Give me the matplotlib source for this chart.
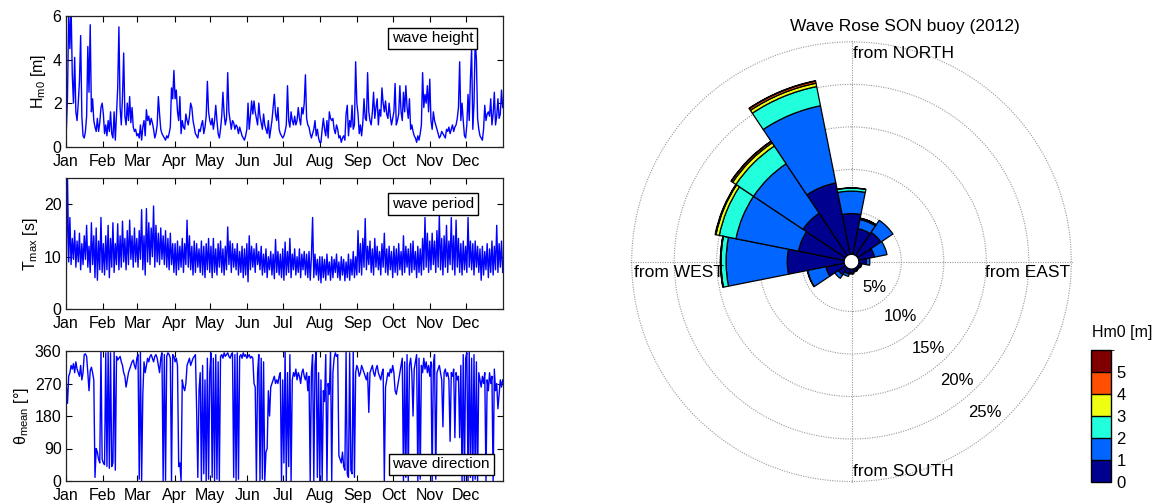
import numpy as np
import matplotlib
matplotlib.use("Agg")
import matplotlib.pyplot as plt
import matplotlib as mpl
from matplotlib.colors import ListedColormap, BoundaryNorm

plt.rcParams['font.family'] = ['Liberation Sans', 'DejaVu Sans']
plt.rcParams['mathtext.fontset'] = 'custom'
plt.rcParams['mathtext.rm'] = 'Liberation Sans'
plt.rcParams['mathtext.it'] = 'Liberation Sans:italic'
plt.rcParams['mathtext.default'] = 'regular'

# ---------------- data ----------------
months = ['Jan', 'Feb', 'Mar', 'Apr', 'May', 'Jun',
          'Jul', 'Aug', 'Sep', 'Oct', 'Nov', 'Dec']
month_start = [0, 31, 60, 91, 121, 152, 182, 213, 244, 274, 305, 335]
year_days = 366

# daily significant wave height [m]
hm0 = [
    0.7, 2.3, 6.2, 4.5, 6.5, 3.3, 2.0, 4.1, 1.6, 1.2, 2.0, 3.0, 5.1, 1.4, 0.5, 0.4, 0.7, 1.4, 4.6, 2.5, 5.6, 1.6, 2.2, 1.2, 0.9, 0.7, 1.3, 0.7, 1.1, 1.8, 2.0,
    1.5, 0.6, 1.0, 0.5, 1.2, 0.7, 1.6, 0.6, 0.4, 1.6, 0.3, 1.5, 2.7, 5.5, 1.8, 1.0, 2.3, 4.3, 1.4, 1.0, 2.0, 1.2, 2.3, 1.1, 1.8, 0.9, 0.7, 0.8, 0.5,
    0.6, 0.4, 1.0, 0.3, 0.9, 1.2, 0.5, 1.7, 1.2, 1.4, 1.0, 1.3, 1.1, 0.8, 0.4, 0.6, 1.0, 2.3, 1.5, 0.8, 0.6, 0.5, 0.4, 0.3, 0.5, 0.4, 0.6, 0.9, 2.7, 2.2, 3.5,
    2.2, 2.6, 1.6, 1.2, 2.3, 0.6, 1.2, 0.9, 0.8, 1.5, 1.2, 1.0, 1.4, 2.0, 1.8, 1.2, 0.9, 0.6, 0.5, 0.4, 0.8, 0.7, 1.0, 1.2, 0.6, 0.9, 1.4, 3.0, 1.6, 1.2,
    1.0, 1.3, 0.8, 1.2, 1.9, 1.2, 0.6, 0.4, 0.8, 1.4, 2.5, 1.5, 1.0, 1.3, 3.4, 1.6, 1.2, 0.8, 1.2, 1.1, 0.8, 1.0, 0.9, 0.6, 0.9, 0.7, 0.5, 0.4, 0.3, 0.5, 0.8,
    2.0, 0.8, 1.4, 2.1, 1.5, 2.1, 1.6, 1.3, 1.0, 2.0, 1.4, 1.1, 0.8, 1.5, 1.0, 0.8, 0.6, 1.2, 0.4, 0.8, 1.2, 1.8, 2.4, 1.5, 1.2, 1.8, 0.8, 0.6, 0.5, 0.4,
    0.5, 0.7, 1.0, 2.8, 1.2, 0.9, 1.6, 1.2, 1.0, 1.4, 1.0, 1.2, 1.8, 1.3, 1.0, 1.8, 1.5, 2.0, 3.3, 1.3, 1.0, 0.9, 0.6, 0.4, 0.6, 0.8, 1.2, 0.5, 0.8, 0.4, 0.2,
    0.2, 0.8, 1.3, 0.8, 0.5, 1.2, 0.4, 1.6, 1.3, 1.2, 1.3, 0.8, 0.6, 1.0, 0.8, 0.4, 0.5, 0.2, 0.4, 0.5, 0.3, 1.5, 1.9, 0.5, 1.2, 0.9, 1.9, 0.8, 1.0, 3.9, 2.0,
    1.5, 0.6, 1.0, 0.5, 1.1, 2.2, 1.3, 1.2, 3.4, 1.6, 1.2, 1.0, 1.6, 2.5, 1.3, 1.8, 2.2, 1.0, 1.7, 1.4, 2.7, 2.0, 1.6, 2.1, 1.5, 1.3, 2.0, 1.4, 1.0, 1.3,
    1.6, 2.9, 1.0, 1.2, 1.5, 2.8, 1.6, 1.2, 2.5, 1.6, 2.8, 1.8, 1.3, 2.2, 0.8, 1.0, 0.7, 0.5, 0.4, 0.2, 0.5, 0.3, 0.6, 1.0, 3.4, 1.8, 2.4, 2.0, 2.8, 1.6, 3.1,
    1.2, 0.8, 1.6, 1.2, 1.0, 0.8, 0.6, 0.4, 0.5, 0.7, 0.6, 0.5, 0.4, 0.8, 0.7, 0.9, 0.6, 0.8, 1.0, 0.7, 0.9, 1.0, 1.3, 1.8, 3.9, 1.2, 2.0, 1.2, 0.5, 0.4,
    1.0, 2.4, 1.2, 3.1, 4.5, 0.8, 2.0, 4.9, 4.0, 1.3, 0.8, 0.5, 0.4, 0.3, 0.8, 1.9, 1.2, 1.5, 1.6, 1.4, 2.2, 1.0, 1.5, 2.5, 1.0, 1.4, 2.2, 1.3, 1.5, 2.6, 1.8,
]

# daily maximum wave period [s] (alternating daily low / high)
tmax = [
    7.0, 25.5, 9.0, 17.5, 8.5, 13.5, 9.5, 15.0, 8.0, 13.0, 9.0, 14.5, 7.5, 12.5, 8.5, 14.0, 9.5, 16.0, 8.0, 12.0, 7.0, 16.5, 8.5, 14.0, 6.0, 15.5, 5.5, 13.0, 7.5, 17.5, 7.0,
    12.5, 6.5, 14.0, 7.5, 16.0, 6.0, 13.5, 8.0, 16.5, 7.0, 12.5, 8.5, 16.3, 7.5, 14.0, 8.0, 16.8, 9.0, 13.5, 7.5, 15.0, 8.5, 17.0, 9.5, 14.0, 8.0, 15.5, 9.0, 13.5,
    8.0, 15.0, 9.5, 19.0, 7.5, 14.0, 6.5, 19.2, 9.0, 16.5, 8.5, 15.5, 10.0, 19.7, 8.0, 16.0, 9.0, 14.5, 8.5, 15.5, 9.5, 14.0, 8.5, 15.0, 8.0, 13.5, 7.5, 14.5, 8.5, 12.5, 7.0,
    12.5, 6.5, 13.0, 7.5, 12.0, 8.0, 13.5, 7.0, 12.5, 8.5, 17.0, 8.0, 14.0, 7.5, 12.0, 6.5, 13.0, 7.0, 12.5, 8.0, 11.5, 7.0, 13.0, 6.5, 12.0, 6.0, 12.5, 7.5, 13.5, 7.0,
    12.0, 6.0, 13.5, 7.0, 11.5, 6.5, 12.5, 8.0, 13.0, 7.0, 11.5, 6.5, 12.0, 7.5, 15.7, 8.5, 13.0, 7.0, 12.5, 8.0, 11.5, 7.5, 12.5, 6.5, 11.0, 7.0, 12.0, 6.0, 11.5, 6.5, 12.5,
    5.2, 14.0, 7.5, 12.0, 8.0, 11.5, 7.0, 12.5, 8.5, 11.0, 7.5, 12.0, 6.5, 10.5, 7.0, 11.5, 6.0, 10.0, 7.5, 11.0, 6.5, 10.5, 5.8, 13.3, 7.0, 11.0, 6.5, 10.5, 6.0, 11.5,
    5.5, 12.8, 6.5, 11.0, 7.0, 13.5, 6.0, 10.5, 7.5, 11.5, 6.5, 10.0, 7.0, 11.5, 6.0, 10.5, 7.5, 11.0, 6.5, 10.5, 6.0, 11.0, 5.5, 10.0, 17.5, 6.0, 10.5, 6.5, 9.5, 5.5, 10.0,
    5.0, 10.0, 6.0, 9.5, 5.5, 10.5, 6.5, 9.0, 5.5, 10.0, 6.0, 9.5, 7.0, 10.5, 6.0, 9.0, 5.5, 10.0, 6.5, 9.5, 5.4, 9.0, 6.0, 10.5, 5.5, 9.5, 6.5, 11.0, 6.0, 10.0, 6.5,
    15.0, 7.0, 12.5, 6.5, 13.5, 8.0, 17.3, 7.5, 12.0, 8.5, 13.0, 7.0, 11.5, 6.5, 13.5, 8.0, 12.0, 7.5, 11.0, 6.5, 12.5, 8.0, 14.5, 7.0, 11.5, 6.5, 12.0, 7.5, 11.0, 6.0,
    12.0, 7.0, 11.5, 6.5, 12.5, 7.5, 11.0, 6.5, 14.0, 7.0, 12.0, 8.0, 11.5, 6.5, 12.5, 7.0, 13.0, 7.5, 11.0, 6.0, 12.0, 7.0, 11.5, 6.5, 13.5, 7.5, 17.5, 8.0, 14.5, 7.0, 13.0,
    7.5, 14.5, 8.5, 13.0, 7.0, 15.0, 8.0, 18.0, 7.5, 13.5, 6.5, 14.0, 8.0, 16.0, 7.0, 13.0, 8.5, 17.5, 7.5, 14.0, 6.5, 17.0, 8.0, 13.5, 7.0, 12.5, 6.5, 13.0, 7.5, 12.0,
    7.0, 17.5, 8.0, 13.0, 7.5, 12.5, 6.5, 13.0, 8.0, 12.0, 7.0, 11.5, 5.5, 12.0, 6.5, 11.0, 7.5, 12.5, 6.0, 11.5, 7.0, 13.0, 6.5, 12.0, 7.5, 16.0, 7.0, 12.5, 8.0, 13.0, 7.0,
]

# daily mean wave direction [deg]
theta_mean = [
    270, 215, 290, 300, 320, 310, 325, 300, 330, 310, 300, 290, 320, 280, 300, 350, 352, 345, 300, 250, 305, 315, 300, 280, 10, 90, 80, 60, 50, 360, 60,
    50, 45, 355, 40, 360, 35, 355, 40, 50, 360, 30, 345, 335, 340, 345, 330, 320, 300, 290, 260, 280, 300, 310, 320, 330, 335, 320, 310, 340,
    350, 5, 358, 0, 240, 330, 300, 320, 340, 330, 345, 350, 340, 330, 345, 350, 340, 320, 300, 340, 355, 0, 350, 2, 345, 355, 350, 340, 0, 350, 345,
    330, 340, 320, 40, 50, 0, 280, 260, 250, 270, 320, 330, 340, 320, 330, 340, 345, 350, 200, 10, 250, 300, 0, 320, 20, 280, 0, 340, 5, 300,
    355, 10, 340, 0, 350, 5, 330, 0, 345, 350, 340, 355, 345, 350, 355, 345, 340, 350, 355, 10, 350, 0, 355, 5, 345, 350, 340, 355, 345, 350, 340,
    345, 350, 340, 345, 340, 270, 260, 0, 300, 350, 0, 340, 5, 330, 0, 80, 90, 250, 180, 260, 270, 280, 290, 270, 280, 270, 290, 300, 0, 280,
    50, 360, 0, 300, 40, 350, 0, 280, 300, 290, 310, 280, 300, 290, 270, 300, 310, 290, 280, 300, 250, 290, 0, 300, 350, 0, 320, 360, 10, 300, 0,
    280, 0, 250, 220, 350, 0, 270, 240, 360, 0, 300, 340, 355, 345, 350, 70, 60, 50, 80, 40, 30, 360, 20, 10, 355, 30, 20, 360, 10, 300, 320,
    310, 290, 300, 320, 310, 300, 290, 280, 300, 190, 300, 310, 320, 300, 290, 310, 320, 300, 290, 280, 300, 310, 0, 260, 280, 300, 290, 310, 300, 320,
    300, 250, 240, 260, 280, 300, 320, 340, 0, 330, 10, 350, 0, 320, 340, 300, 180, 310, 330, 350, 0, 340, 5, 320, 300, 340, 310, 330, 300, 320, 290,
    330, 0, 320, 350, 5, 300, 310, 320, 300, 280, 150, 300, 310, 290, 300, 280, 110, 300, 290, 310, 120, 300, 280, 290, 120, 320, 0, 350, 0, 340,
    355, 0, 360, 10, 340, 0, 350, 5, 330, 0, 300, 280, 260, 290, 270, 300, 0, 280, 250, 300, 270, 290, 0, 310, 250, 270, 200, 240, 280, 260, 280,
]

panel_names = ['wave height', 'wave period', 'wave direction']
panel_ylabels = [r'H$_{m0}$ [m]', r'T$_{max}$ [s]', r'θ$_{mean}$ [°]']
panel_ylims = [(0, 6), (0, 25), (0, 360)]
panel_yticks = [[0, 2, 4, 6], [0, 10, 20], [0, 90, 180, 270, 360]]

# wave rose: frequency of occurrence [%] per direction sector and Hm0 class
sectors = ['N', 'NNE', 'NE', 'ENE', 'E', 'ESE', 'SE', 'SSE',
           'S', 'SSW', 'SW', 'WSW', 'W', 'WNW', 'NW', 'NNW']
rose_0_1 = [4.8, 3.1, 3.3, 1.9, 0.9, 0.3, 0.25, 0.3, 0.5, 0.6, 1.0, 2.2, 6.7, 5.5, 6.0, 8.6]
rose_1_2 = [2.65, 1.1, 1.7, 1.5, 0.4, 0.1, 0.05, 0.1, 0.1, 0.3, 0.5, 2.2, 7.2, 7.5, 7.0, 9.25]
rose_2_3 = [0.35, 0.15, 0.0, 0.0, 0.0, 0.0, 0.0, 0.0, 0.0, 0.0, 0.0, 0.05, 0.6, 2.0, 2.5, 2.3]
rose_3_4 = [0.03, 0.02, 0.0, 0.0, 0.0, 0.0, 0.0, 0.0, 0.0, 0.0, 0.0, 0.0, 0.05, 0.4, 0.45, 0.4]
rose_4_5 = [0.0, 0.0, 0.0, 0.0, 0.0, 0.0, 0.0, 0.0, 0.0, 0.0, 0.0, 0.0, 0.02, 0.05, 0.2, 0.25]
rose_5_up = [0.0, 0.0, 0.0, 0.0, 0.0, 0.0, 0.0, 0.0, 0.0, 0.0, 0.0, 0.0, 0.0, 0.05, 0.05, 0.05]
hm0_classes = [0, 1, 2, 3, 4, 5]
class_colors = ['#00008f', '#0066ff', '#22ffdd', '#eeff11', '#ff4f00', '#800000']
ring_levels = [5, 10, 15, 20, 25]
compass_labels = ['from NORTH', 'from EAST', 'from SOUTH', 'from WEST']

# ---------------- figure ----------------
W, H = 1158, 504
fig = plt.figure(figsize=(W / 100, H / 100), dpi=100)


def px_box(x0, y0, x1, y1):
    return [x0 / W, 1 - y1 / H, (x1 - x0) / W, (y1 - y0) / H]


panel_boxes = [px_box(65.7, 16, 503.3, 146.7),
               px_box(65.7, 178.3, 503.3, 309),
               px_box(65.7, 351, 503.3, 481)]
series = [hm0, tmax, theta_mean]
label_pos = [(0.839, 0.828), (0.840, 0.803), (0.858, 0.128)]

for box, vals, name, ylab, ylim, yt, lp in zip(panel_boxes, series, panel_names,
                                               panel_ylabels, panel_ylims,
                                               panel_yticks, label_pos):
    ax = fig.add_axes(box)
    v = np.asarray(vals, dtype=float)
    x = (np.arange(v.size) + 0.5) * year_days / v.size
    ax.plot(x, v, color='#0000ff', lw=1.0)
    ax.set_xlim(0, year_days)
    ax.set_ylim(*ylim)
    ax.set_yticks(yt)
    ax.set_xticks(month_start)
    ax.set_xticklabels(months)
    ax.tick_params(direction='in', top=True, right=True, length=4,
                   width=0.8, labelsize=11.5)
    ax.tick_params(axis='x', pad=5)
    ax.tick_params(axis='y', pad=3)
    ax.set_ylabel(ylab, fontsize=11.5, labelpad=3)
    for s in ax.spines.values():
        s.set_linewidth(0.9)
        s.set_color('#222222')
    ax.text(lp[0], lp[1], name, transform=ax.transAxes, ha='center',
            va='center', fontsize=11,
            bbox=dict(boxstyle='square,pad=0.25', fc='white', ec='black', lw=1.0))

# ---- wave rose ----
px_per_pct = 8.5
hole_px = 7.3
cx, cy = 851.5, 261.7
rmax = 25.2
rad_px = hole_px + rmax * px_per_pct
rax = fig.add_axes(px_box(cx - rad_px, cy - rad_px, cx + rad_px, cy + rad_px),
                   projection='polar')
rax.set_theta_zero_location('N')
rax.set_theta_direction(-1)
rax.set_rorigin(-hole_px / px_per_pct)
rax.set_ylim(0, rmax)
rax.set_facecolor('none')
for s in rax.spines.values():
    s.set_visible(False)
rax.set_rgrids(ring_levels, labels=[''] * len(ring_levels))
rax.set_thetagrids([0, 90, 180, 270], labels=[''] * 4)
rax.grid(True, color='#999999', linestyle=(0, (1, 1.2)), linewidth=0.8)
rax.set_axisbelow(True)

n_sec = len(sectors)
sec_theta = np.deg2rad(np.arange(n_sec) * 360.0 / n_sec)
sec_width = 2 * np.pi / n_sec
bottom = np.zeros(n_sec)
for vals, col in zip([rose_0_1, rose_1_2, rose_2_3, rose_3_4, rose_4_5, rose_5_up],
                     class_colors):
    vals = np.asarray(vals, dtype=float)
    m = vals > 0
    rax.bar(sec_theta[m], vals[m], width=sec_width, bottom=bottom[m],
            color=col, edgecolor='black', linewidth=0.9, zorder=3)
    bottom += vals

for lev in ring_levels:
    rax.text(np.deg2rad(138.5), lev - min(2.2, 0.35 * lev), f'{lev}%',
             ha='center', va='center', fontsize=12, zorder=4)

# compass labels (bearing [deg], radius [%], alignment)
compass_pos = [(0.3, 23.66, 'left'), (92.9, 24.88, 'right'),
               (179.7, 23.85, 'left'), (267.1, 24.8, 'left')]
for txt, (brg, r, ha) in zip(compass_labels, compass_pos):
    rax.text(np.deg2rad(brg), r, txt, ha=ha, va='center', fontsize=12.5, zorder=4)

fig.text(905 / W, 1 - 26 / H, 'Wave Rose SON buoy (2012)', ha='center',
         va='center', fontsize=12.5)

# ---- colour bar ----
cax = fig.add_axes(px_box(1090.7, 350, 1111, 481.7))
cmap = ListedColormap(class_colors)
bounds = np.arange(len(class_colors) + 1)
norm = BoundaryNorm(bounds, cmap.N)
cb = mpl.colorbar.ColorbarBase(cax, cmap=cmap, norm=norm, ticks=hm0_classes,
                               drawedges=True)
cb.outline.set_linewidth(1.0)
cb.dividers.set_linewidth(1.0)
cb.ax.tick_params(length=0, labelsize=12, pad=4)
fig.text(1121.7 / W, 1 - 333 / H, 'Hm0 [m]', ha='center', va='center', fontsize=11.5)

fig.savefig('out.png', dpi=100)
